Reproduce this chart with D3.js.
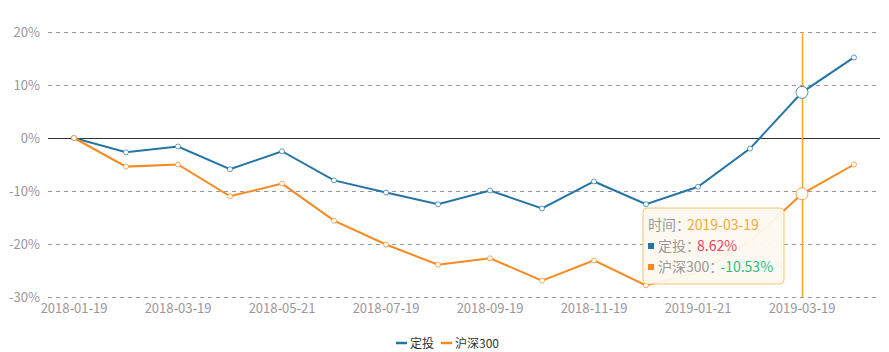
<!DOCTYPE html>
<html>
<head>
<meta charset="utf-8">
<script src="https://cdn.jsdelivr.net/npm/d3@7"></script>
<style>
    body { margin: 0; background: #fff; }
    #chart { width: 889px; height: 352px; }
    .axisText { font-family: "Noto Sans CJK SC", "Noto Sans", sans-serif; font-size: 13px; fill: #999; }
</style>
</head>
<body>
<div id="chart"></div>
<script>
// monthly dates (x axis categories)
const dates = ["2018-01-19","2018-02-22","2018-03-19","2018-04-19","2018-05-21","2018-06-19",
    "2018-07-19","2018-08-20","2018-09-19","2018-10-19","2018-11-19","2018-12-19",
    "2019-01-21","2019-02-19","2019-03-19","2019-04-19"];

// returns in %
const dingtou = [0, -2.7, -1.6, -5.9, -2.5, -8.0, -10.3, -12.5, -9.9, -13.3, -8.2, -12.5, -9.2, -2.0, 8.62, 15.2];
const hs300 = [0, -5.4, -5.0, -11.0, -8.6, -15.6, -20.1, -23.9, -22.7, -26.9, -23.1, -27.8, -25.4, -19.6, -10.53, -5.0];

const seriesNames = ["定投", "沪深300"];
const yTicks = [-30, -20, -10, 0, 10, 20];
const hoverDate = "2019-03-19";

class ReturnLineVis {

    constructor(parentElement) {
        this.parentElement = parentElement;
        this.colors = ['#2574a6', '#f7891e'];
        this.initVis();
    }

    initVis() {
        let vis = this;

        vis.margin = {top: 32, right: 9, bottom: 55, left: 48};
        vis.width = 889 - vis.margin.left - vis.margin.right;
        vis.height = 352 - vis.margin.top - vis.margin.bottom;

        vis.svg = d3.select("#" + vis.parentElement).append("svg")
            .attr("width", 889)
            .attr("height", 352)
            .append("g")
            .attr("transform", "translate(" + vis.margin.left + "," + vis.margin.top + ")");

        vis.x = d3.scaleBand().domain(dates).range([0, vis.width]);
        vis.y = d3.scaleLinear().domain([-30, 20]).range([vis.height, 0]);
        vis.xc = d => vis.x(d) + vis.x.bandwidth() / 2;

        vis.series = [
            {name: seriesNames[0], values: dingtou, color: vis.colors[0]},
            {name: seriesNames[1], values: hs300, color: vis.colors[1]}
        ];

        vis.updateVis();
    }

    updateVis() {
        let vis = this;

        // grid lines
        vis.svg.append("g").selectAll("line")
            .data(yTicks)
            .enter().append("line")
            .attr("x1", 0).attr("x2", vis.width)
            .attr("y1", d => vis.y(d) + 0.5).attr("y2", d => vis.y(d) + 0.5)
            .attr("stroke", d => d === 0 ? "#333" : "#999")
            .attr("stroke-dasharray", d => d === 0 ? null : "4,4");

        // y axis labels
        let yAxis = d3.axisLeft(vis.y).tickValues(yTicks).tickSize(0).tickPadding(8)
            .tickFormat(d => d + "%");
        vis.svg.append("g").attr("class", "y-axis")
            .call(yAxis)
            .call(g => g.select(".domain").remove())
            .selectAll("text").attr("class", "axisText");

        // x axis labels (every other date)
        let xAxis = d3.axisBottom(vis.x).tickSize(0).tickPadding(7)
            .tickValues(dates.filter((d, i) => i % 2 === 0));
        vis.svg.append("g").attr("class", "x-axis")
            .attr("transform", "translate(0," + vis.height + ")")
            .call(xAxis)
            .call(g => g.select(".domain").remove())
            .selectAll("text").attr("class", "axisText");

        // hover line
        vis.svg.append("line")
            .attr("x1", vis.xc(hoverDate) + 0.5).attr("x2", vis.xc(hoverDate) + 0.5)
            .attr("y1", 0).attr("y2", vis.height)
            .attr("stroke", "#f9a825").attr("stroke-width", 1.5);

        let line = d3.line()
            .x((d, i) => vis.xc(dates[i]))
            .y(d => vis.y(d));

        vis.series.forEach(s => {
            vis.svg.append("path")
                .datum(s.values)
                .attr("fill", "none")
                .attr("stroke", s.color)
                .attr("stroke-width", 2)
                .attr("d", line);

            vis.svg.append("g").selectAll("circle")
                .data(s.values)
                .enter().append("circle")
                .attr("cx", (d, i) => vis.xc(dates[i]))
                .attr("cy", d => vis.y(d))
                .attr("r", (d, i) => dates[i] === hoverDate ? 6 : 2.5)
                .attr("fill", "#fff")
                .attr("stroke", s.color)
                .attr("stroke-opacity", (d, i) => dates[i] === hoverDate ? 0.8 : 0.7)
                .attr("stroke-width", 1);
        });

        // tooltip
        let hi = dates.indexOf(hoverDate);
        let tip = vis.svg.append("g")
            .attr("transform", "translate(" + (vis.xc(hoverDate) - 159) + "," + 176 + ")");
        tip.append("rect")
            .attr("width", 141).attr("height", 76)
            .attr("rx", 4)
            .attr("fill", "#fdf9f0").attr("fill-opacity", 0.95)
            .attr("stroke", "#f7c46c");

        let rows = [
            {label: "时间：", value: hoverDate, color: "#f5a83a", mark: null},
            {label: seriesNames[0] + "：", value: dingtou[hi].toFixed(2) + "%", color: "#ee3f5c", mark: vis.colors[0]},
            {label: seriesNames[1] + "：", value: hs300[hi].toFixed(2) + "%", color: "#1dbf85", mark: vis.colors[1]}
        ];
        rows.forEach((r, i) => {
            let yy = 22 + i * 21;
            let tx = 5;
            if (r.mark) {
                tip.append("rect").attr("x", 5).attr("y", yy - 8).attr("width", 6).attr("height", 6)
                    .attr("fill", r.mark);
                tx = 15;
            }
            let t = tip.append("text").attr("x", tx).attr("y", yy)
                .attr("font-family", "\"Noto Sans CJK SC\", sans-serif").attr("font-size", 14);
            t.append("tspan").text(r.label).attr("fill", "#999");
            t.append("tspan").text(r.value).attr("fill", r.color).attr("dx", -3);
        });

        // legend
        let legend = vis.svg.append("g")
            .attr("transform", "translate(" + (396 - vis.margin.left) + "," + (343 - vis.margin.top) + ")");
        let lx = 0;
        vis.series.forEach(s => {
            legend.append("line").attr("x1", lx).attr("x2", lx + 11).attr("y1", 0).attr("y2", 0)
                .attr("stroke", s.color).attr("stroke-width", 2.5);
            let t = legend.append("text").text(s.name)
                .attr("x", lx + 14).attr("y", 4.5)
                .attr("font-family", "\"Noto Sans CJK SC\", sans-serif").attr("font-size", 12)
                .attr("fill", "#333");
            lx += 14 + t.node().getComputedTextLength() + 7;
        });
    }
}

new ReturnLineVis("chart");
</script>
</body>
</html>
